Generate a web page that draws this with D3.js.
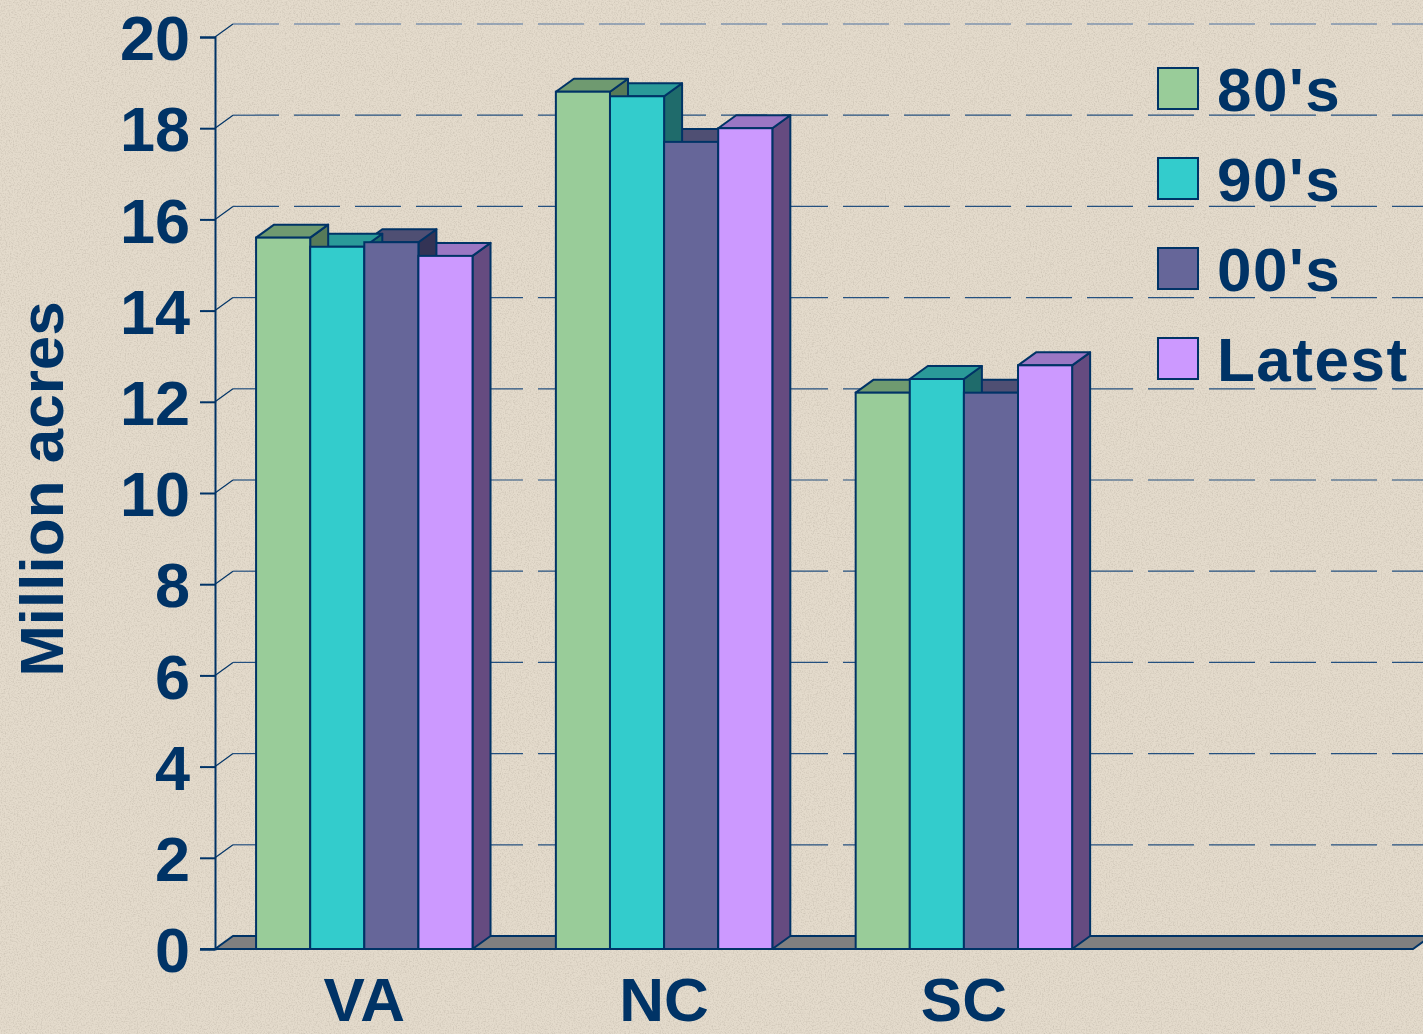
<!DOCTYPE html>
<html>
<head>
<meta charset="utf-8">
<script src="https://cdn.jsdelivr.net/npm/d3@7"></script>
<style>
body{margin:0;padding:0;background:#e4dbcc;}
svg{display:block;}
text{font-family:"Liberation Sans",Arial,sans-serif;font-weight:bold;fill:#003366;}
</style>
</head>
<body>
<div id="container"></div>
<script>
var width = 1423;
var height = 1034;

// data (million acres)
var categories = ["VA", "NC", "SC"];
var series = ["80's", "90's", "00's", "Latest"];
var v80s = [15.6, 18.8, 12.2];
var v90s = [15.4, 18.7, 12.5];
var v00s = [15.5, 17.7, 12.2];
var vLatest = [15.2, 18.0, 12.8];
var yTicks = [0, 2, 4, 6, 8, 10, 12, 14, 16, 18, 20];

var values = [v80s, v90s, v00s, vLatest];
var front = ["#99cc99", "#33cccc", "#666699", "#cc99ff"];
var tops = ["#6f9a70", "#2a9a99", "#4f4f73", "#9b77c4"];
var sides = ["#577a58", "#1f6b6b", "#333355", "#654b80"];
var navy = "#003366";

var dx = 18, dy = -13;

var svg = d3.select("div#container").append("svg")
	.attr("width", width)
	.attr("height", height);

// speckled paper background
var defs = svg.append("defs");
var f = defs.append("filter").attr("id", "paper").attr("x", 0).attr("y", 0).attr("width", "100%").attr("height", "100%");
f.append("feTurbulence").attr("type", "fractalNoise").attr("baseFrequency", 0.75).attr("numOctaves", 2).attr("seed", 3);
f.append("feColorMatrix").attr("type", "matrix")
	.attr("values", "0 0 0 0 0.45  0 0 0 0 0.40  0 0 0 0 0.33  -2.2 0 0 0 1.25");
svg.append("rect").attr("width", width).attr("height", height).attr("fill", "#e4dbcc");
svg.append("rect").attr("width", width).attr("height", height).attr("filter", "url(#paper)").attr("opacity", 0.45);

var y = d3.scaleLinear().domain([0, 20]).range([949, 37]);
var x0 = d3.scaleBand().domain(categories.concat([""])).range([215, 1413])
	.paddingInner(0.278).paddingOuter(0.137);
var x1 = d3.scaleBand().domain(series).range([0, x0.bandwidth()]);

// back wall gridlines
var grid = svg.append("g");
yTicks.filter(function(t){ return t > 0; }).forEach(function(t){
	grid.append("line")
		.attr("x1", 215).attr("y1", y(t))
		.attr("x2", 215 + dx).attr("y2", y(t) + dy)
		.attr("stroke", navy).attr("stroke-width", 1.2);
	grid.append("line")
		.attr("x1", 215 + dx).attr("y1", y(t) + dy)
		.attr("x2", width).attr("y2", y(t) + dy)
		.attr("stroke", t == 20 ? "#4f73a0" : "#24507f").attr("stroke-width", 1.2)
		.attr("stroke-dasharray", "46,15");
});

// floor
svg.append("path")
	.attr("d", "M215," + y(0) + "L" + (215 + dx) + "," + (y(0) + dy) + "L" + (1413 + dx) + "," + (y(0) + dy)
		+ "L1413," + y(0) + "Z")
	.attr("fill", "#808080").attr("stroke", navy).attr("stroke-width", 2);

// bars
var bars = [];
categories.forEach(function(c, i){
	series.forEach(function(s, j){
		bars.push({cat: c, s: j, v: values[j][i], x: x0(c) + x1(s), w: x1.bandwidth()});
	});
});

var G = svg.append("g").attr("id", "bars");
// sides and tops right to left, fronts last
bars.slice().reverse().forEach(function(d){
	var x = d.x, w = d.w, t = y(d.v), b = y(0);
	G.append("path")
		.attr("d", "M" + (x + w) + "," + t + "L" + (x + w + dx) + "," + (t + dy) + "L" + (x + w + dx) + "," + (b + dy) + "L" + (x + w) + "," + b + "Z")
		.attr("fill", sides[d.s]).attr("stroke", navy).attr("stroke-width", 2).attr("stroke-linejoin", "round");
	G.append("path")
		.attr("d", "M" + x + "," + t + "L" + (x + dx) + "," + (t + dy) + "L" + (x + w + dx) + "," + (t + dy) + "L" + (x + w) + "," + t + "Z")
		.attr("fill", tops[d.s]).attr("stroke", navy).attr("stroke-width", 2).attr("stroke-linejoin", "round");
});
G.selectAll("rect.front")
	.data(bars)
	.enter()
	.append("rect")
	.attr("class", "front")
	.attr("x", function(d){ return d.x; })
	.attr("y", function(d){ return y(d.v); })
	.attr("width", function(d){ return d.w; })
	.attr("height", function(d){ return y(0) - y(d.v); })
	.attr("fill", function(d){ return front[d.s]; })
	.attr("stroke", navy).attr("stroke-width", 2);

// y axis
var yAxis = d3.axisLeft(y).tickValues(yTicks).tickSize(15).tickPadding(10).tickFormat(d3.format("d"));
var ya = svg.append("g").attr("transform", "translate(215,0)").call(yAxis);
ya.select(".domain").attr("stroke", navy).attr("stroke-width", 2);
ya.selectAll(".tick line").attr("stroke", navy).attr("stroke-width", 2);
ya.selectAll(".tick text")
	.attr("fill", navy).attr("font-size", 63).attr("font-family", "'Liberation Sans', Arial, sans-serif")
	.attr("font-weight", "bold").attr("dy", "0.36em");

// front floor edge
svg.append("line").attr("x1", 200).attr("y1", y(0)).attr("x2", 1413).attr("y2", y(0))
	.attr("stroke", navy).attr("stroke-width", 2);

// category labels
svg.selectAll("text.cat")
	.data(categories)
	.enter()
	.append("text")
	.attr("class", "cat")
	.attr("x", function(d){ return x0(d) + x0.bandwidth() / 2; })
	.attr("y", 1021)
	.attr("text-anchor", "middle")
	.attr("font-size", 62)
	.text(function(d){ return d; });

// y title
svg.append("text")
	.attr("transform", "translate(63,489) rotate(-90)")
	.attr("text-anchor", "middle")
	.attr("font-size", 62)
	.text("Million acres");

// legend
var legend = svg.append("g").attr("transform", "translate(1158,68)");
series.forEach(function(s, j){
	legend.append("rect")
		.attr("x", 0).attr("y", j * 90)
		.attr("width", 40).attr("height", 41)
		.attr("fill", front[j]).attr("stroke", navy).attr("stroke-width", 2);
	legend.append("text")
		.attr("x", 59).attr("y", j * 90 + 43)
		.attr("font-size", 62)
		.attr("letter-spacing", 1.5)
		.text(s);
});
</script>
</body>
</html>
